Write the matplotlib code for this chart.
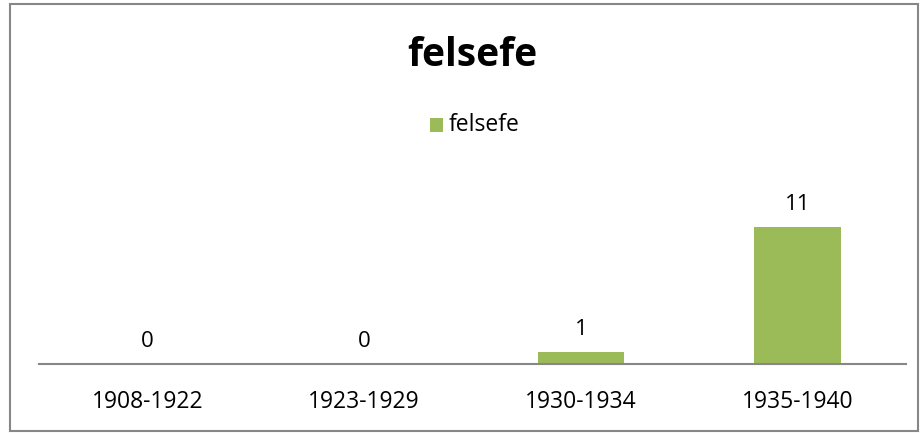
import matplotlib.pyplot as plt
from matplotlib.patches import Rectangle

plt.rcParams['font.family'] = ['Open Sans', 'DejaVu Sans']

categories = ["1908-1922", "1923-1929", "1930-1934", "1935-1940"]
values = [0, 0, 1, 11]
series_name = "felsefe"
bar_color = "#9BBB59"

W, H = 922, 434
fig = plt.figure(figsize=(W / 100, H / 100), dpi=100)

# chart border
fig.patches.append(Rectangle((10 / W, 3 / H), 908 / W, 427 / H, transform=fig.transFigure,
                             fill=False, edgecolor="#878787", linewidth=1.5))

ax_bottom = 364
ax_top = 170
ax = fig.add_axes([39 / W, (H - ax_bottom) / H, (906 - 39) / W, (ax_bottom - ax_top) / H])
x = range(len(categories))
ax.bar(x, values, width=0.4, color=bar_color)
ax.set_xlim(-0.5, len(categories) - 0.5)
ax.set_ylim(0, (ax_bottom - ax_top) / 12.45)
for xi, v in zip(x, values):
    ax.annotate(str(v), (xi, v), xytext=(0, 16), textcoords="offset points",
                ha="center", va="center", fontsize=16)
ax.set_xticks(list(x))
ax.set_xticklabels(categories, fontsize=16.5)
ax.tick_params(axis="x", length=0, pad=19)
ax.set_yticks([])
for s in ["top", "right", "left"]:
    ax.spines[s].set_visible(False)
ax.spines["bottom"].set_color("#878787")
ax.spines["bottom"].set_linewidth(1.5)

fig.text(472 / W, 1 - 55 / H, series_name, ha="center", va="center",
         fontsize=28, fontweight="bold")
fig.patches.append(Rectangle((430 / W, 1 - 132 / H), 13 / W, 14 / H, transform=fig.transFigure,
                             facecolor=bar_color, edgecolor="none"))
fig.text(449 / W, 1 - 125 / H, series_name, ha="left", va="center", fontsize=16.5)

fig.savefig("out.png", dpi=100)
